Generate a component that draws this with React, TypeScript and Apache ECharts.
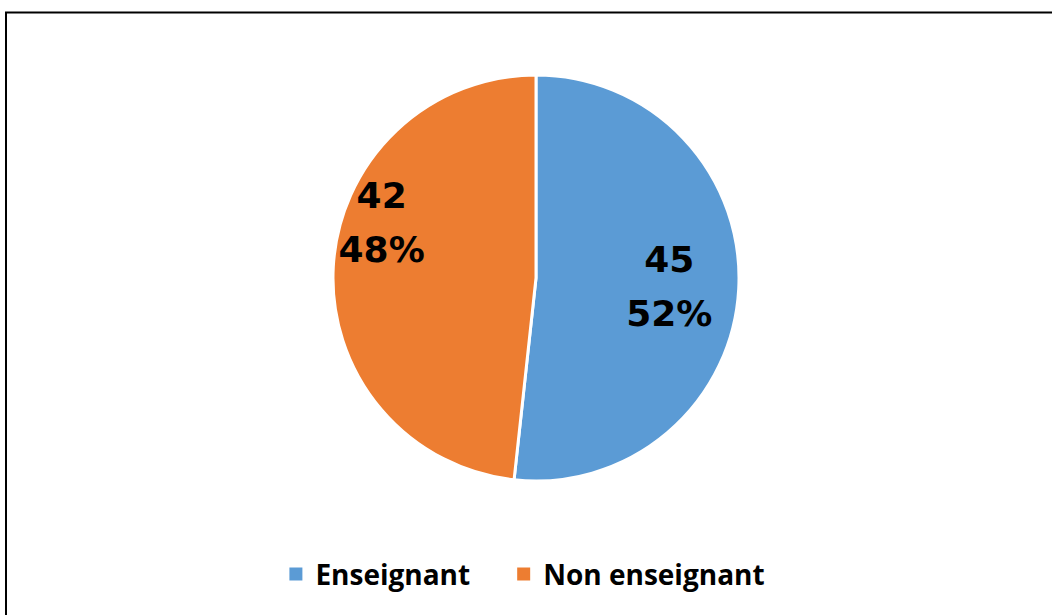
import React, { useEffect, useRef } from "react";
import * as echarts from "echarts";

const categories = ["Enseignant", "Non enseignant"];
const values = [45, 42];
const colors = ["#5B9BD5", "#ED7D31"];
const labelShift = [
  [29, 3],
  [-50, -50],
];

export default function App() {
  const ref = useRef<HTMLDivElement>(null);
  useEffect(() => {
    document.body.style.margin = "0";
    const chart = echarts.init(ref.current!, null, { renderer: "svg" });
    chart.setOption({
      animation: false,
      backgroundColor: "#ffffff",
      graphic: [
        {
          type: "rect",
          shape: { x: 6, y: 12.5, width: 1200, height: 800 },
          style: { fill: "none", stroke: "#000", lineWidth: 2 },
          silent: true,
        },
      ],
      legend: {
        data: categories,
        bottom: 22,
        left: "center",
        icon: "rect",
        itemWidth: 15,
        itemHeight: 15,
        itemGap: 45,
        textStyle: {
          fontFamily: "Open Sans",
          fontWeight: "bold",
          fontSize: 28,
          color: "#000",
          padding: [0, 0, 0, 7],
        },
      },
      series: [
        {
          type: "pie",
          center: [536, 278],
          radius: 203,
          startAngle: 90,
          clockwise: true,
          percentPrecision: 0,
          itemStyle: { borderColor: "#fff", borderWidth: 3 },
          label: {
            show: true,
            position: "inside",
            formatter: "{c}\n{d}%",
            fontFamily: "DejaVu Sans",
            fontWeight: "bold",
            fontSize: 36,
            lineHeight: 54,
            color: "#000",
          },
          labelLine: { show: false },
          labelLayout: (p: any) => ({
            dx: labelShift[p.dataIndex][0],
            dy: labelShift[p.dataIndex][1],
          }),
          emphasis: { disabled: true },
          data: categories.map((c, i) => ({
            name: c,
            value: values[i],
            itemStyle: { color: colors[i] },
          })),
        },
      ],
    });
    return () => chart.dispose();
  }, []);
  return <div ref={ref} style={{ width: 1052, height: 615 }} />;
}
